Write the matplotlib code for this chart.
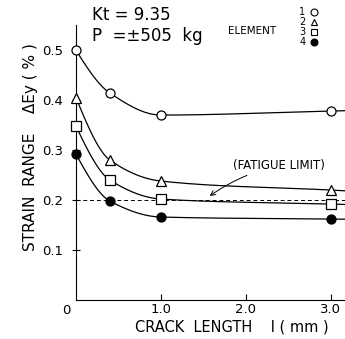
import matplotlib
matplotlib.use('Agg')
import matplotlib.pyplot as plt
import numpy as np

# crack length (mm) and strain range (%)
crack_len = [0.0, 0.4, 1.0, 3.0]
elem1 = [0.500, 0.414, 0.370, 0.378]
elem2 = [0.405, 0.280, 0.238, 0.220]
elem3 = [0.348, 0.240, 0.202, 0.192]
elem4 = [0.292, 0.198, 0.166, 0.162]
fatigue_limit = 0.2


def pchip(x, y, xs):
    # monotone cubic curve through the measured points (drawing only)
    x = np.asarray(x, float)
    y = np.asarray(y, float)
    h = np.diff(x)
    d = np.diff(y) / h
    m = np.zeros_like(y)
    for k in range(1, len(x) - 1):
        if d[k - 1] * d[k] > 0:
            w1 = 2 * h[k] + h[k - 1]
            w2 = h[k] + 2 * h[k - 1]
            m[k] = (w1 + w2) / (w1 / d[k - 1] + w2 / d[k])
    m[0] = ((2 * h[0] + h[1]) * d[0] - h[0] * d[1]) / (h[0] + h[1])
    if np.sign(m[0]) != np.sign(d[0]):
        m[0] = 0
    m[-1] = d[-1]
    out = []
    for xv in xs:
        if xv >= x[-1]:
            out.append(y[-1] + m[-1] * (xv - x[-1]))
            continue
        k = min(np.searchsorted(x, xv, side='right') - 1, len(x) - 2)
        t = (xv - x[k]) / h[k]
        h00 = 2 * t**3 - 3 * t**2 + 1
        h10 = t**3 - 2 * t**2 + t
        h01 = -2 * t**3 + 3 * t**2
        h11 = t**3 - t**2
        out.append(h00 * y[k] + h10 * h[k] * m[k] + h01 * y[k + 1] + h11 * h[k] * m[k + 1])
    return np.array(out)


fig = plt.figure(figsize=(3.45, 3.39), dpi=100)
ax = fig.add_axes([0.22, 0.115, 0.78, 0.811])

xs = np.linspace(0, 3.2, 300)
series = [(elem1, 'o', 'white'), (elem2, '^', 'white'),
          (elem3, 's', 'white'), (elem4, 'o', 'black')]
for vals, mk, fc in series:
    ax.plot(xs, pchip(crack_len, vals, xs), color='black', lw=0.9)
    ax.plot(crack_len, vals, linestyle='none', marker=mk, ms=6.5,
            mfc=fc, mec='black', mew=0.9, zorder=3, clip_on=False)

ax.axhline(fatigue_limit, color='black', lw=0.7, ls=(0, (4, 3)))

ax.set_xlim(0, 3.17)
ax.set_ylim(0, 0.55)
ax.spines['top'].set_visible(False)
ax.spines['right'].set_visible(False)
ax.set_xticks([1.0, 2.0, 3.0])
ax.set_xticklabels(['1.0', '2.0', '3.0'])
ax.set_yticks([0.1, 0.2, 0.3, 0.4, 0.5])
ax.set_yticklabels(['0.1', '0.2', '0.3', '0.4', '0.5'])
ax.tick_params(axis='x', direction='in', length=4, labelsize=9.5, pad=2)
ax.tick_params(axis='y', direction='inout', length=6, labelsize=9.5, pad=6)
ax.text(-0.06, -0.008, '0', ha='right', va='top', fontsize=9.5,
        transform=ax.transData)

fig.text(0.672, 0.035, 'CRACK  LENGTH    l ( mm )', fontsize=10.5,
         ha='center', va='center')
fig.text(0.087, 0.566, 'STRAIN  RANGE    ΔEy ( % )', fontsize=11,
         ha='center', va='center', rotation=90)

fig.text(0.267, 0.955, 'Kt = 9.35', fontsize=12, va='center')
fig.text(0.267, 0.893, 'P  =±505  kg', fontsize=12, va='center')
fig.text(0.66, 0.91, 'ELEMENT', fontsize=7.5, va='center')

leg_y = [0.965, 0.935, 0.905, 0.875]
leg_mk = [('o', 'white'), ('^', 'white'), ('s', 'white'), ('o', 'black')]
for i, (yy, (mk, fc)) in enumerate(zip(leg_y, leg_mk)):
    fig.text(0.885, yy, str(i + 1), fontsize=7, va='center', ha='right')
    fig.lines.append(plt.Line2D([0.91], [yy], transform=fig.transFigure,
                                marker=mk, ms=5, mfc=fc, mec='black',
                                mew=0.8, linestyle='none'))

ax.annotate('(FATIGUE LIMIT)', xy=(1.55, 0.205), xytext=(1.85, 0.27),
            fontsize=8.5, ha='left', va='center',
            arrowprops=dict(arrowstyle='->', color='black', lw=0.7,
                            connectionstyle='arc3,rad=0.1'))

fig.savefig('out.png', dpi=100)
